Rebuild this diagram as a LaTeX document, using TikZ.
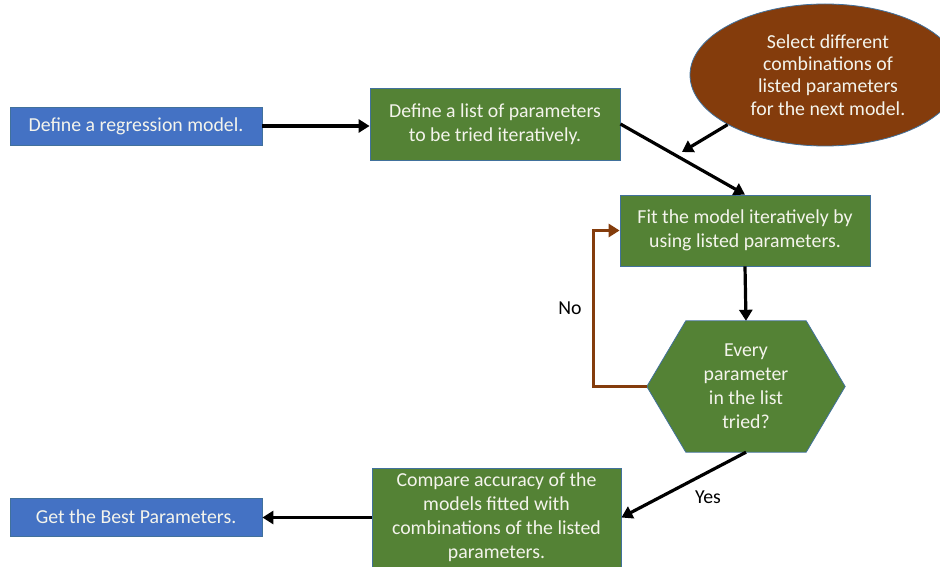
\documentclass[tikz,border=0pt]{standalone}
\usepackage{fontspec}
\setmainfont{Carlito}
\usetikzlibrary{shapes.geometric,arrows.meta,calc}
\pgfdeclarelayer{background}
\pgfsetlayers{background,main}
\definecolor{boxblue}{HTML}{4472C4}
\definecolor{boxgreen}{HTML}{548235}
\definecolor{ovalbrown}{HTML}{843C0C}
\definecolor{edgeblue}{HTML}{41719C}
\definecolor{boxtext}{HTML}{F4F4EC}

\begin{document}
\begin{tikzpicture}[x=1pt,y=-1pt,
  every node/.style={font=\fontsize{19.8}{24}\selectfont},
  base/.style={draw=edgeblue, line width=0.8pt, text=boxtext, align=center, inner sep=0pt},
  bluebox/.style={base, fill=boxblue, minimum width=252pt, minimum height=38pt},
  greenbox/.style={base, fill=boxgreen, minimum width=250pt},
  flow/.style={line width=3.2pt, -{Triangle[length=11pt,width=13pt]}},
  backflow/.style={flow, draw=ovalbrown, color=ovalbrown},
  tag/.style={text=black}
]
\useasboundingbox (0,0) rectangle (940,567);

% process boxes
\node[bluebox] (A) at (136,126) {Define a regression model.};
\node[greenbox, minimum height=72pt] (B) at (495,124)
  {Define a list of parameters\\to be tried iteratively.};
\node[greenbox, minimum height=71pt] (C) at (745,230.5)
  {Fit the model iteratively by\\using listed parameters.};
\node[greenbox, minimum width=249pt, minimum height=99pt] (D) at (496.5,517.5)
  {Compare accuracy of the\\models fitted with\\combinations of the listed\\parameters.};
\node[bluebox] (E) at (136,517) {Get the Best Parameters.};

% oval note, running slightly off the right edge
\node[ellipse, fill=ovalbrown, draw=edgeblue, line width=0.8pt,
      minimum width=270pt, minimum height=142pt, inner sep=0pt] (S) at (825,75) {};
\node[text=boxtext, align=center, inner sep=0pt,
      font=\fontsize{19.8}{22.3}\selectfont] (St) at (828,75)
  {Select different\\combinations of\\listed parameters\\for the next model.};

% decision hexagon
\node[text=boxtext, align=center, inner sep=0pt,
      minimum width=198pt, minimum height=131pt] (H) at (746,386.5)
  {Every\\parameter\\in the list\\tried?};
\begin{pgfonlayer}{background}
  \filldraw[fill=boxgreen, draw=edgeblue, line width=0.8pt]
    (H.west) -- ($(H.north west)+(39,0)$) -- ($(H.north east)+(-39,0)$)
    -- (H.east) -- ($(H.south east)+(-39,0)$) -- ($(H.south west)+(39,0)$) -- cycle;
\end{pgfonlayer}

% connectors
\coordinate (m) at (682,152);
\draw[flow] (A.east) -- (A.east -| B.west);
\draw[flow] (B.east) -- (C.north);
\draw[flow] (S.207) -- (m);
\draw[flow] (C.south) -- (H.north);
\draw[flow] (H.south) -- (D.east);
\draw[flow] (D.west) -- (D.west -| E.east);
\draw[backflow] (H.west) -- ++(-53,0) |- (C.west);

% branch labels
\node[tag] (no) at (570,308) {No};
\node[tag] (yes) at (708,497) {Yes};
\end{tikzpicture}
\end{document}
